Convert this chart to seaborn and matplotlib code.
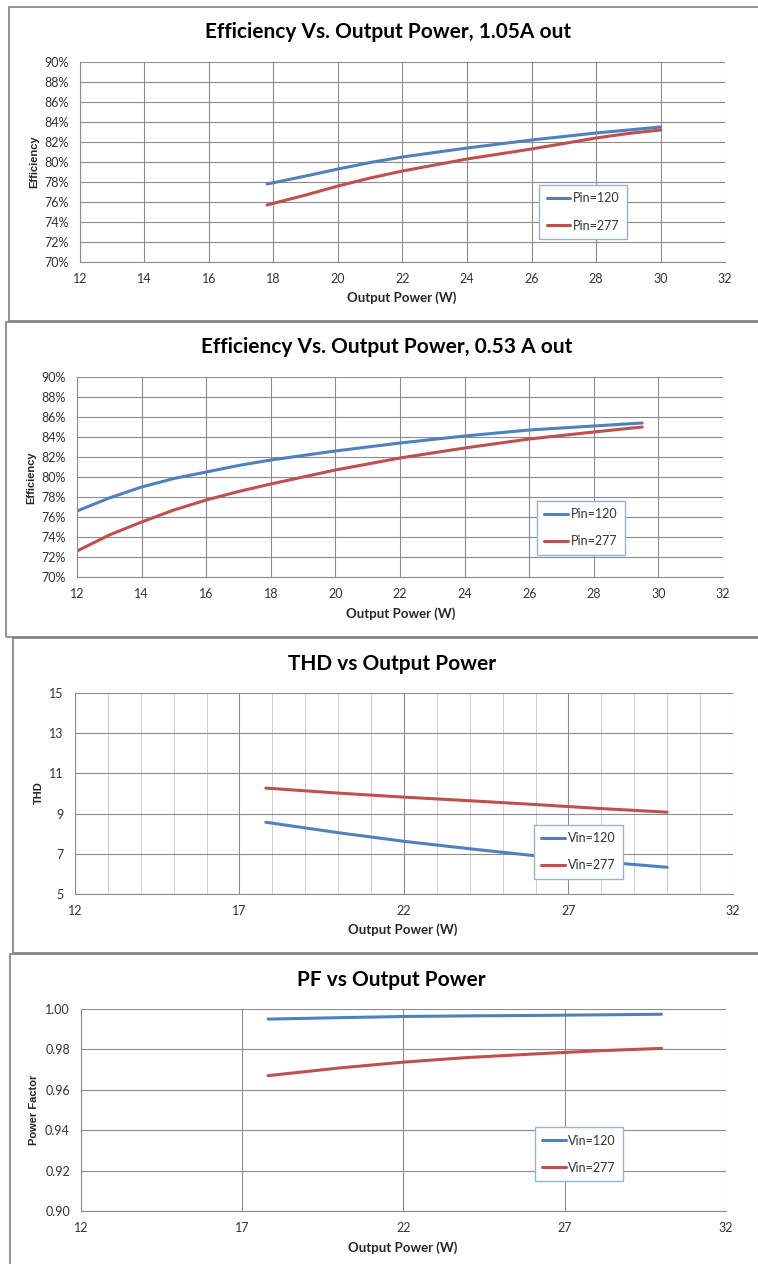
import pandas as pd
import numpy as np
import matplotlib
matplotlib.use('Agg')
import matplotlib.pyplot as plt
from matplotlib.patches import Rectangle
from matplotlib.ticker import PercentFormatter, FixedLocator, FormatStrFormatter
import seaborn as sns

sns.set_style('white')
plt.rcParams['font.family'] = ['Lato', 'DejaVu Sans']

W, H = 758, 1264
BLUE = '#4F81BD'
RED = '#C0504D'
GRID = '#8C8C8C'

# --- data ---
# 1.05 A out
eff1_x = [17.8, 19, 20, 21, 22, 23, 24, 25, 26, 27, 28, 29, 30]
eff1_120 = [77.8, 78.6, 79.3, 79.95, 80.5, 80.95, 81.4, 81.8, 82.2, 82.55, 82.9, 83.2, 83.5]
eff1_277 = [75.7, 76.7, 77.6, 78.4, 79.1, 79.7, 80.3, 80.8, 81.3, 81.85, 82.4, 82.85, 83.2]

# 0.53 A out
eff2_x = [12, 13, 14, 15, 16, 17, 18, 20, 22, 24, 26, 28, 29.5]
eff2_120 = [76.6, 77.9, 79.0, 79.85, 80.5, 81.15, 81.7, 82.6, 83.4, 84.1, 84.7, 85.1, 85.4]
eff2_277 = [72.6, 74.2, 75.5, 76.7, 77.7, 78.55, 79.3, 80.7, 81.9, 82.9, 83.8, 84.5, 85.0]

# THD
thd_x = [17.8, 20, 22, 24, 26, 28, 30]
thd_120 = [8.57, 8.05, 7.62, 7.25, 6.9, 6.6, 6.33]
thd_277 = [10.27, 10.02, 9.82, 9.64, 9.45, 9.25, 9.07]

# PF
pf_x = [17.8, 20, 22, 24, 26, 28, 30]
pf_120 = [0.995, 0.9957, 0.9963, 0.9966, 0.9968, 0.9971, 0.9974]
pf_277 = [0.967, 0.9708, 0.9737, 0.9760, 0.9777, 0.9793, 0.9805]

# axis ticks
eff_xticks = [12, 14, 16, 18, 20, 22, 24, 26, 28, 30, 32]
eff_yticks = [70, 72, 74, 76, 78, 80, 82, 84, 86, 88, 90]
thd_xticks = [12, 17, 22, 27, 32]
thd_xminor = list(range(12, 33))
thd_yticks = [5, 7, 9, 11, 13, 15]
pf_xticks = [12, 17, 22, 27, 32]
pf_yticks = [0.90, 0.92, 0.94, 0.96, 0.98, 1.00]


def long_df(x, a, b, names):
    return pd.DataFrame({
        'x': list(x) + list(x),
        'y': list(a) + list(b),
        'series': [names[0]] * len(x) + [names[1]] * len(x),
    })


fig = plt.figure(figsize=(W / 100, H / 100), dpi=100)


def px_rect(x0, y0, x1, y1):
    return [x0 / W, 1 - y1 / H, (x1 - x0) / W, (y1 - y0) / H]


def frame(x0, y0, x1, y1):
    fig.patches.append(Rectangle((x0 / W, 1 - y1 / H), (x1 - x0) / W, (y1 - y0) / H,
                                 transform=fig.transFigure, fill=False,
                                 edgecolor='#7F7F7F', linewidth=1.2))


def panel(box, axbox, df, title, title_xy, ylabel, ylab_xy, xlab_xy, leg_xy,
          xticks, yticks, xminor=None, yfmt=None):
    frame(*box)
    ax = fig.add_axes(px_rect(*axbox))
    sns.lineplot(data=df, x='x', y='y', hue='series', palette=[BLUE, RED],
                 linewidth=2.2, ax=ax, legend=True)
    ax.set_xlim(xticks[0], xticks[-1])
    ax.set_ylim(yticks[0], yticks[-1])
    ax.xaxis.set_major_locator(FixedLocator(xticks))
    ax.yaxis.set_major_locator(FixedLocator(yticks))
    if xminor:
        ax.xaxis.set_minor_locator(FixedLocator(xminor))
        ax.grid(True, which='minor', axis='x', color='#CFCFCF', linewidth=0.7)
    ax.grid(True, which='major', color=GRID, linewidth=0.8)
    ax.set_axisbelow(True)
    if yfmt is not None:
        ax.yaxis.set_major_formatter(yfmt)
    for s in ['top', 'right']:
        ax.spines[s].set_visible(False)
    for s in ['left', 'bottom']:
        ax.spines[s].set_color(GRID)
        ax.spines[s].set_linewidth(0.8)
    ax.tick_params(axis='both', which='major', direction='out', length=4,
                   color=GRID, labelsize=9, labelcolor='#333333', pad=4)
    ax.tick_params(axis='x', which='minor', length=0)
    ax.set_xlabel('')
    ax.set_ylabel('')
    leg = ax.legend(loc='center', bbox_to_anchor=leg_xy, fontsize=9,
                    frameon=True, fancybox=False, framealpha=1,
                    edgecolor='#95B3D7', handlelength=1.9, handletextpad=0.2,
                    labelspacing=1.2, borderpad=0.6, borderaxespad=0)
    leg.get_frame().set_linewidth(1.0)
    for t in leg.get_texts():
        t.set_color('#333333')
    fig.text(title_xy[0] / W, 1 - title_xy[1] / H, title, ha='center', va='center',
             fontsize=15, fontweight='bold', color='black')
    fig.text(ylab_xy[0] / W, 1 - ylab_xy[1] / H, ylabel, ha='center', va='center',
             rotation=90, fontsize=8, fontweight='bold',
             family=['Liberation Sans', 'DejaVu Sans'])
    fig.text(xlab_xy[0] / W, 1 - xlab_xy[1] / H, 'Output Power (W)', ha='center',
             va='center', fontsize=9.5, fontweight='bold')
    return ax


pct = PercentFormatter(decimals=0)

panel((9, 7, 770, 321), (80, 62, 725, 262),
      long_df(eff1_x, eff1_120, eff1_277, ['Pin=120', 'Pin=277']),
      'Efficiency Vs. Output Power, 1.05A out', (388, 32),
      'Efficiency', (34, 162), (402, 298), (0.780, 0.25),
      eff_xticks, eff_yticks, yfmt=pct)

panel((6, 322, 770, 637), (77, 377, 723, 577),
      long_df(eff2_x, eff2_120, eff2_277, ['Pin=120', 'Pin=277']),
      'Efficiency Vs. Output Power, 0.53 A out', (387, 347),
      'Efficiency', (31, 478), (401, 614), (0.780, 0.2475),
      eff_xticks, eff_yticks, yfmt=pct)

panel((13, 638, 770, 953), (75, 693, 733, 894),
      long_df(thd_x, thd_120, thd_277, ['Vin=120', 'Vin=277']),
      'THD vs Output Power', (392, 664),
      'THD', (39, 793), (403, 930), (0.765, 0.209),
      thd_xticks, thd_yticks, xminor=thd_xminor)

panel((10, 954, 770, 1280), (81, 1009, 726, 1211),
      long_df(pf_x, pf_120, pf_277, ['Vin=120', 'Vin=277']),
      'PF vs Output Power', (391, 980),
      'Power Factor', (34, 1110), (403, 1248), (0.772, 0.282),
      pf_xticks, pf_yticks, yfmt=FormatStrFormatter('%.2f'))

fig.savefig('out.png', dpi=100)
